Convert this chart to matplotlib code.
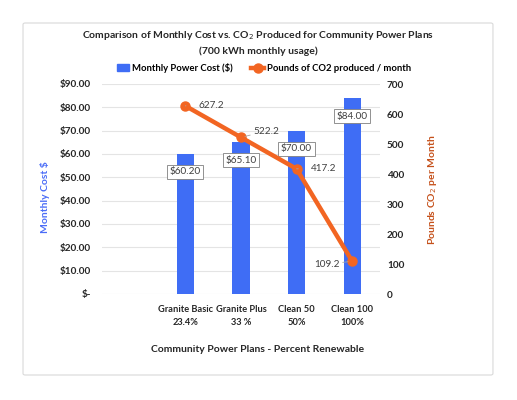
import numpy as np
import matplotlib.pyplot as plt
from matplotlib.patches import FancyBboxPatch, Patch
from matplotlib.lines import Line2D

# --- Data ---
plans = ["", "Granite Basic\n23.4%", "Granite Plus\n33 %", "Clean 50\n50%", "Clean 100\n100%"]
cost = [np.nan, 60.20, 65.10, 70.00, 84.00]
co2 = [np.nan, 627.2, 522.2, 417.2, 109.2]
# label offsets (pixels) for the CO2 labels
co2_offsets = [None, (26, 0), (25, 6), (27, 0), (-25, -3)]

blue = "#3F6DF5"
orange = "#F26522"
dark = "#404040"

plt.rcParams["font.family"] = ["Lato", "DejaVu Sans"]

fig = plt.figure(figsize=(5.17, 4.0), dpi=100)
fig.patch.set_facecolor("white")

# outer frame
fig.patches.append(FancyBboxPatch((0.0445, 0.0625), 0.909, 0.88,
                                  boxstyle="round,pad=0,rounding_size=0.004",
                                  transform=fig.transFigure, fc="none",
                                  ec="#D9D9D9", lw=0.8, zorder=-1))

ax = fig.add_axes([0.197, 0.265, 0.538, 0.525])
ax2 = ax.twinx()
x = np.arange(len(plans))

ax.bar(x, cost, width=0.31, color=blue, zorder=2)
ax.set_ylim(0, 90)
ax.set_yticks(np.arange(0, 91, 10))
ax.set_yticklabels(["$-"] + [f"${v:.2f}" for v in np.arange(10, 91, 10)])
ax.set_xlim(-0.5, len(plans) - 0.5)
ax.set_xticks(x)
ax.set_xticklabels(plans, fontweight="bold", fontsize=6.7, color="#262626", linespacing=1.6)
ax.grid(axis="y", color="#E4E4E4", lw=0.8, zorder=0)
ax.set_axisbelow(True)
ax.patch.set_alpha(0)
for s in ax.spines.values():
    s.set_visible(False)
for s in ax2.spines.values():
    s.set_visible(False)
ax.tick_params(axis="both", length=0, pad=8)
ax.tick_params(axis="y", labelsize=7.2, labelcolor="#262626")
for t in ax.get_yticklabels():
    t.set_fontweight("bold")

ax2.plot(x, co2, color=orange, lw=3.2, marker="o", ms=6.5, zorder=3)
ax2.set_ylim(0, 700)
ax2.set_yticks(np.arange(0, 701, 100))
ax2.tick_params(axis="y", length=0, pad=5, labelsize=7.2, labelcolor="#262626")
for t in ax2.get_yticklabels():
    t.set_fontweight("bold")

# bar labels
for xi, v in zip(x, cost):
    if np.isnan(v):
        continue
    ax.annotate(f"${v:.2f}", (xi, v), xytext=(0, -18), textcoords="offset pixels",
                ha="center", va="center", fontsize=7.2, color=dark, zorder=5,
                bbox=dict(boxstyle="square,pad=0.25", fc="white", ec="#808080", lw=0.6))

# line labels
for xi, v, off in zip(x, co2, co2_offsets):
    if off is None:
        continue
    ax2.annotate(f"{v:.1f}", (xi, v), xytext=off, textcoords="offset pixels",
                 ha="center", va="center", fontsize=7.2, color=dark, zorder=5,
                 arrowprops=dict(arrowstyle="-", color="#A6A6A6", lw=0.6,
                                 shrinkA=7, shrinkB=3))

fig.text(0.499, 0.91, "Comparison of Monthly Cost vs. CO$_2$ Produced for Community Power Plans",
         ha="center", va="center", fontsize=7.5, fontweight="bold", color="#262626")
fig.text(0.499, 0.8725, "(700 kWh monthly usage)", ha="center", va="center",
         fontsize=7.5, fontweight="bold", color="#262626")

fig.text(0.087, 0.508, "Monthly Cost $", rotation=90, ha="center", va="center",
         fontsize=7.5, fontweight="bold", color="#4A6CF7")
fig.text(0.836, 0.525, "Pounds CO$_2$ per Month", rotation=90, ha="center", va="center",
         fontsize=7.5, fontweight="bold", color="#C5501A")
fig.text(0.499, 0.127, "Community Power Plans - Percent Renewable", ha="center", va="center",
         fontsize=7.5, fontweight="bold", color="#262626")

handles = [Patch(color=blue),
           Line2D([0], [0], color=orange, lw=3.2, marker="o", ms=6.5)]
fig.legend(handles, ["Monthly Power Cost ($)", "Pounds of CO2 produced / month"],
           loc="center", bbox_to_anchor=(0.51, 0.83), ncol=2, frameon=False,
           prop={"weight": "bold", "size": 6.8}, handlelength=1.3, handletextpad=0.3,
           columnspacing=2.0, handleheight=0.7)

fig.savefig("out.png", dpi=100, facecolor="white")
